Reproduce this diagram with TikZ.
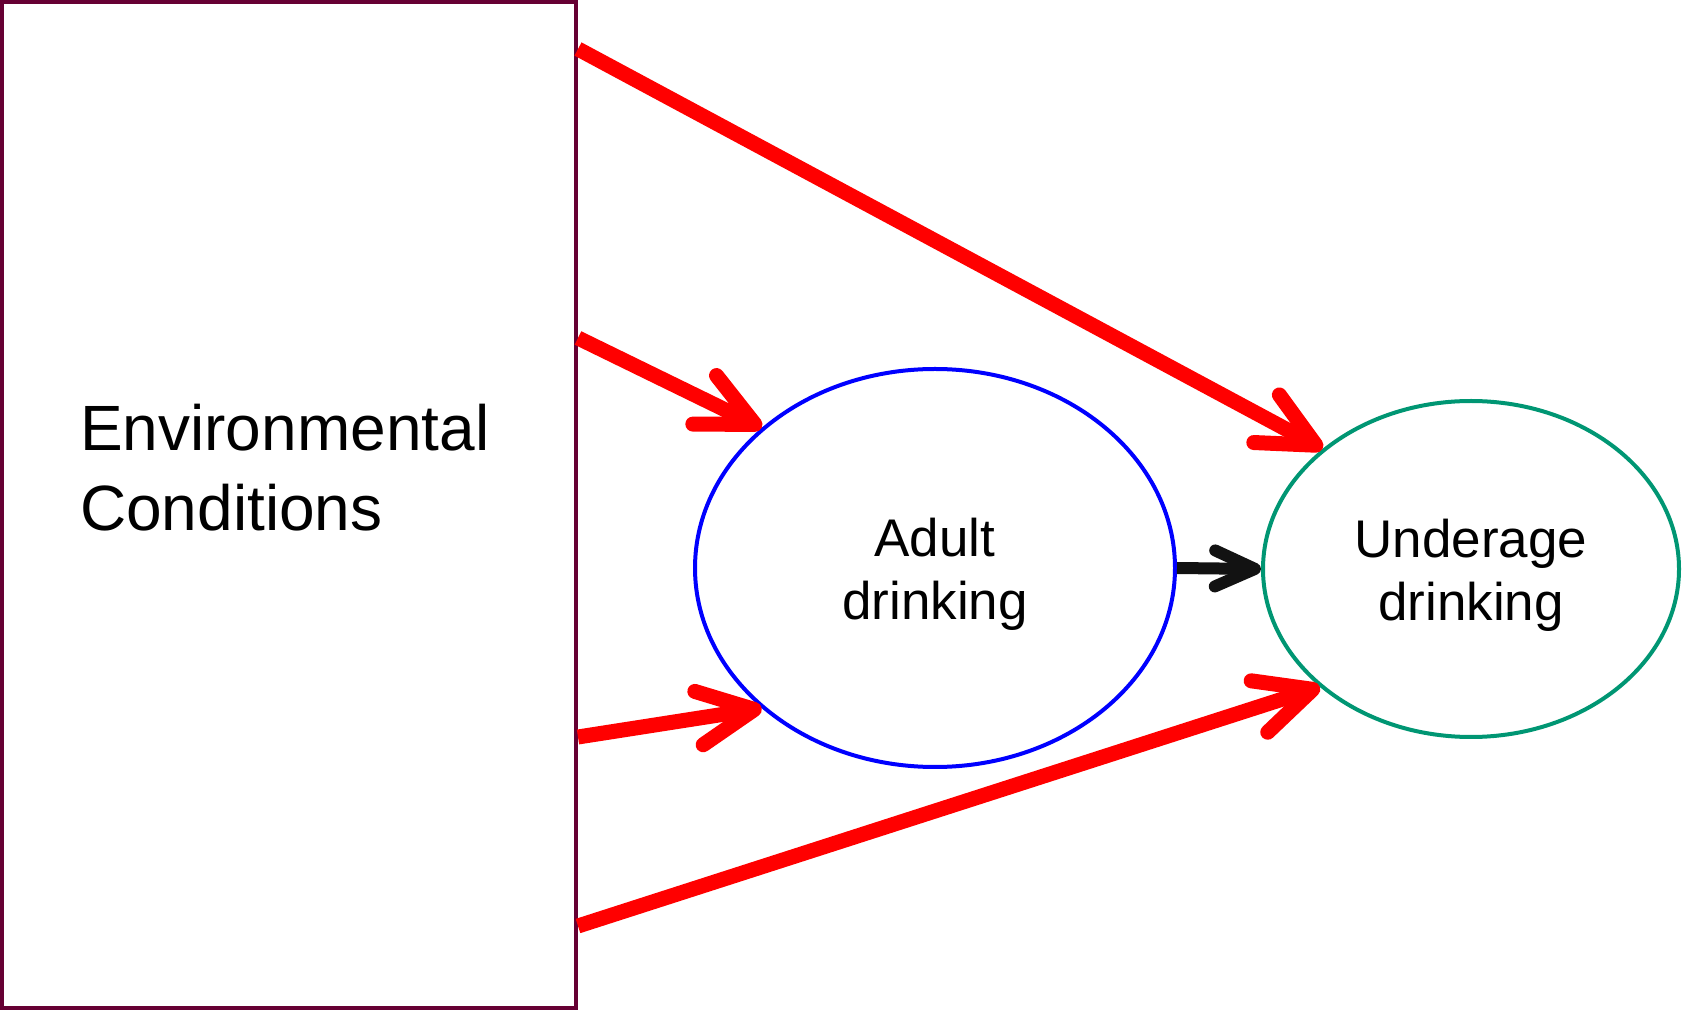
\documentclass[tikz,border=0pt]{standalone}
\usepackage{fontspec}
\setmainfont{Liberation Sans}
\usetikzlibrary{arrows.meta,shapes.geometric,positioning}

\definecolor{boxpurple}{RGB}{102,0,51}
\definecolor{adultblue}{RGB}{0,0,255}
\definecolor{undergreen}{RGB}{0,150,115}

\newcommand{\toplift}{\rule{0pt}{51pt}}

\begin{document}
\begin{tikzpicture}[x=1pt,y=1pt,
    envbox/.style={rectangle,draw=boxpurple,line width=4pt,minimum width=574pt,
      minimum height=1005pt,inner sep=0pt},
    drinker/.style={ellipse,line width=4pt,inner sep=0pt,
      font=\fontsize{53}{63.6}\selectfont,align=center},
    effect/.style={draw=red,line width=15pt,
      -{Straight Barb[length=56pt,width=54pt,round]}},
    link/.style={draw=black!93,line width=12pt,
      -{Straight Barb[length=40pt,width=36pt,round]}}]

  \useasboundingbox (0,0) rectangle (1684,1010);

  \node[envbox] (env) at (289,505) {};
  \node[anchor=north west,inner sep=0pt,align=left,
    font=\fontsize{64}{80}\selectfont] (envtext) at (80,606)
    {Environmental\\Conditions};

  \node[drinker,draw=adultblue,minimum width=480pt,minimum height=398pt]
    (adult) at (935,442) {\toplift Adult\\drinking};
  \node[drinker,draw=undergreen,minimum width=416pt,minimum height=336pt]
    (under) at (1471,441) {\toplift Underage\\drinking};

  % direct and indirect paths
  \path[effect] ([yshift=456pt]env.east) -- (under.141);
  \path[effect] ([yshift=167pt]env.east) -- (adult.141);
  \path[effect] ([yshift=-232pt]env.east) -- (adult.219);
  \path[effect] ([yshift=-421pt]env.east) -- (under.218);
  \path[link] (adult.east) -- (under.west);
\end{tikzpicture}
\end{document}
